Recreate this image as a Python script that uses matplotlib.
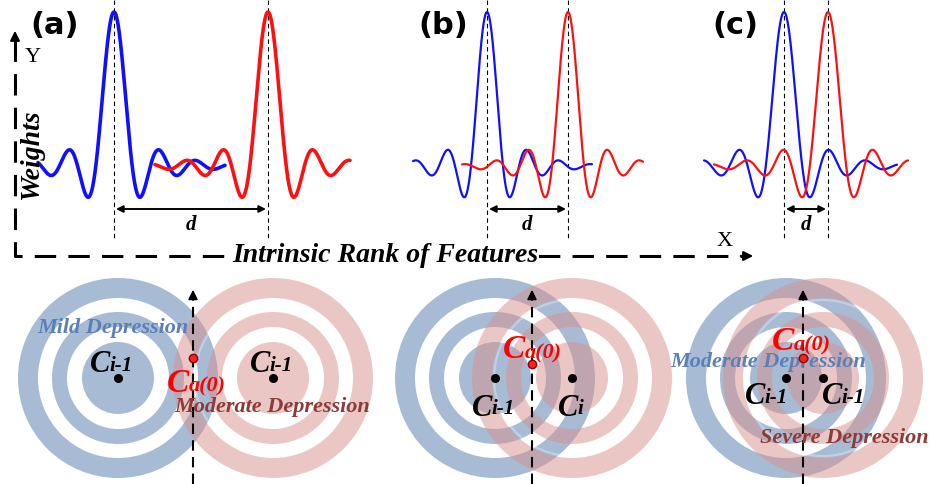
import numpy as np
import matplotlib

matplotlib.use("Agg")
import matplotlib.pyplot as plt
from matplotlib.patches import Annulus, Circle

# everything is placed in pixel units of the 932x484 canvas (y grows downwards)
W, H = 932, 484

# top row: weight curves (sinc-shaped lobes)
PANEL_LABELS = ["(a)", "(b)", "(c)"]
PANEL_LABEL_X = [55, 443, 735]
BLUE_PEAK_X = [114, 487, 784]
RED_PEAK_X = [268, 568, 828]
LOBE_SCALE = [18.2, 16.0, 18.2]
LOBE_TAPER = 5.5
BLUE_SPAN = [(38, 225), (413, 592), (704, 897)]
RED_SPAN = [(155, 350), (462, 643), (714, 908)]
CURVE_LW = [2.6, 1.6, 1.6]
CURVE_BASE = 166
CURVE_TOP = 12

# bottom row: concentric rings around two cluster centres
BLUE_CENTER_X = [118, 495, 786]
RED_CENTER_X = [273, 572, 823]
CENTER_Y = 378
RING_BANDS = [(0, 36), (51, 66), (80, 100)]
ANCHOR_X = [193, 532, 803]
ANCHOR_Y = [358, 364, 358]

# C labels: x of left edge, y of centre, subscript
C_X = [90, 250, 472, 558, 745, 822]
C_Y = [365, 365, 408, 408, 397, 397]
C_SUB = ["i-1", "i-1", "i-1", "i", "i-1", "i-1"]
CA_X = [167, 503, 772]
CA_Y = [383, 350, 342]

NOTE_TEXT = ["Mild Depression", "Moderate Depression", "Moderate Depression", "Severe Depression"]
NOTE_X = [113, 272, 768, 844]
NOTE_Y = [328, 407, 362, 438]
NOTE_COLOR = ["#5b80b8", "#8e3b37", "#5b80b8", "#8e3b37"]

BLUE = "#1010ff"
RED = "#ff1010"
RING_BLUE = "#5179ad"
RING_RED = "#d7918d"
SERIF = "Liberation Serif"


def main() -> None:
    fig = plt.figure(figsize=(W / 100, H / 100), dpi=100)
    ax = fig.add_axes([0, 0, 1, 1])
    ax.set_xlim(0, W)
    ax.set_ylim(H, 0)
    ax.axis("off")

    amp = CURVE_BASE - CURVE_TOP
    for i in range(3):
        for peak, span, col in ((BLUE_PEAK_X[i], BLUE_SPAN[i], BLUE), (RED_PEAK_X[i], RED_SPAN[i], RED)):
            xs = np.linspace(span[0], span[1], 600)
            u = (xs - peak) / LOBE_SCALE[i]
            ys = CURVE_BASE - amp * np.sinc(u) * np.exp(-(u / LOBE_TAPER) ** 2)
            ax.plot(xs, ys, color=col, lw=CURVE_LW[i], solid_capstyle="round", zorder=3)
            ax.plot([peak, peak], [0, 238], color="black", lw=0.8, ls=(0, (4, 3)), zorder=2)
        ax.annotate("", xy=(BLUE_PEAK_X[i] + 2, 209), xytext=(RED_PEAK_X[i] - 2, 209),
                    arrowprops=dict(arrowstyle="<|-|>", color="black", lw=1.4,
                                    mutation_scale=10, shrinkA=0, shrinkB=0))
        ax.text((BLUE_PEAK_X[i] + RED_PEAK_X[i]) / 2, 225, "d", ha="center", va="center",
                fontsize=15, family=SERIF, weight="bold", style="italic")
        ax.text(PANEL_LABEL_X[i], 26, PANEL_LABELS[i], ha="center", va="center",
                fontsize=22, family="DejaVu Sans", weight="bold")

    # dashed axes of the top row
    ax.plot([15, 15, 745], [40, 256, 256], color="black", lw=2.2,
            ls=(0, (7, 4)), dash_capstyle="butt", zorder=1)
    ax.annotate("", xy=(15, 28), xytext=(15, 44),
                arrowprops=dict(arrowstyle="-|>", color="black", lw=1.5, mutation_scale=14))
    ax.annotate("", xy=(756, 256), xytext=(738, 256),
                arrowprops=dict(arrowstyle="-|>", color="black", lw=1.5, mutation_scale=14))
    ax.text(33, 58, "Y", ha="center", va="center", fontsize=16, family=SERIF)
    ax.text(725, 242, "X", ha="center", va="center", fontsize=16, family=SERIF)
    ax.text(32, 155, "Weights", ha="center", va="center", rotation=90, fontsize=20,
            family=SERIF, weight="bold", style="italic")
    ax.text(385, 255, "Intrinsic Rank of Features", ha="center", va="center", fontsize=20,
            family=SERIF, weight="bold", style="italic", zorder=4,
            bbox=dict(facecolor="white", edgecolor="none", pad=1))

    # rings
    for i in range(3):
        for cx, col in ((BLUE_CENTER_X[i], RING_BLUE), (RED_CENTER_X[i], RING_RED)):
            for r_in, r_out in RING_BANDS:
                if r_in == 0:
                    patch = Circle((cx, CENTER_Y), r_out, facecolor=col, edgecolor="none", alpha=0.5)
                else:
                    patch = Annulus((cx, CENTER_Y), r_out, r_out - r_in, facecolor=col,
                                    edgecolor="none", alpha=0.5)
                ax.add_patch(patch)
            ax.add_patch(Circle((cx, CENTER_Y), 78, facecolor="none", edgecolor="white",
                                lw=1.6, alpha=0.3))
            ax.plot(cx, CENTER_Y, "o", color="black", ms=5.5, zorder=6)

        ax.plot([ANCHOR_X[i], ANCHOR_X[i]], [H, 298], color="black", lw=1.5,
                ls=(0, (5, 3)), zorder=5)
        ax.annotate("", xy=(ANCHOR_X[i], 287), xytext=(ANCHOR_X[i], 300),
                    arrowprops=dict(arrowstyle="-|>", color="black", lw=1.2, mutation_scale=14),
                    zorder=5)
        ax.plot(ANCHOR_X[i], ANCHOR_Y[i], "o", color="#ff2020", mec="#8b0000", mew=1.0,
                ms=6, zorder=8)

    for x, y, sub in zip(C_X, C_Y, C_SUB):
        c = ax.text(x, y, "C", ha="left", va="center", fontsize=22, family=SERIF,
                    weight="bold", style="italic", zorder=7)
        ax.annotate(sub, xy=(0.97, 0.28), xycoords=c, ha="left", va="baseline", fontsize=15,
                    family=SERIF, weight="bold", style="italic", zorder=7)

    for x, y in zip(CA_X, CA_Y):
        c = ax.text(x, y, "C", ha="left", va="center", fontsize=24, family=SERIF,
                    weight="bold", style="italic", color="#ff0000", zorder=7)
        ax.annotate("a(0)", xy=(0.97, 0.22), xycoords=c, ha="left", va="baseline", fontsize=16,
                    family=SERIF, weight="bold", style="italic", color="#ff0000", zorder=7)

    for txt, x, y, col in zip(NOTE_TEXT, NOTE_X, NOTE_Y, NOTE_COLOR):
        ax.text(x, y, txt, ha="center", va="center", fontsize=16, family=SERIF,
                weight="bold", style="italic", color=col, zorder=7)

    fig.savefig("out.png", dpi=100)
    plt.close(fig)


if __name__ == "__main__":
    main()
